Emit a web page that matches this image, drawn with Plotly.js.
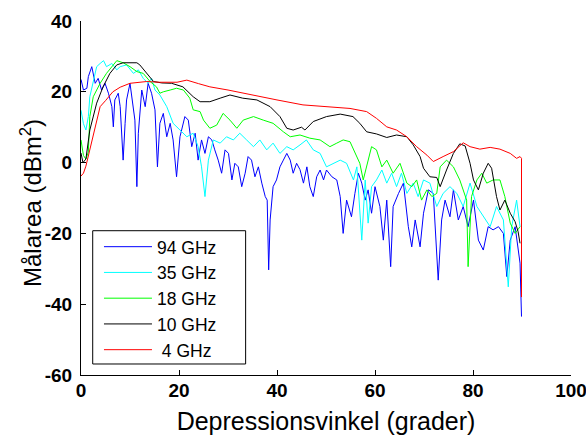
<!DOCTYPE html>
<html>
<head>
<meta charset="utf-8">
<script src="https://cdn.plot.ly/plotly-3.0.1.min.js"></script>
<style>html,body{margin:0;padding:0;background:#fff;}#chart{width:586px;height:435px;}</style>
</head>
<body>
<div id="chart"></div>
<script>
// Series names
var names = ['94 GHz', '35 GHz', '18 GHz', '10 GHz', '\u00a04 GHz'];

// 94 GHz
var x94 = [0,0.5,1.2,1.5,2.2,2.5,2.9,3.5,4.2,4.9,5.6,6.3,6.6,6.9,7.6,8.0,8.3,8.6,9.0,9.3,10.0,10.3,11.0,11.4,11.7,12.4,13.1,13.7,14.4,15.1,15.6,16.1,16.8,17.5,18.2,18.8,19.5,20.2,21.2,21.9,22.6,23.3,23.9,24.6,25.3,26.0,26.7,27.3,28.0,28.7,29.4,30.1,30.8,31.4,32.1,32.8,33.5,34.1,34.8,35.5,36.2,36.9,37.6,38.0,38.3,38.6,39.2,39.9,40.6,41.3,42.0,42.7,43.3,44.0,44.7,45.4,46.1,46.7,47.4,48.1,48.8,49.5,50.1,51.2,52.2,52.9,53.5,54.2,55.2,55.9,56.6,57.3,58.0,58.6,59.3,60.0,61.0,61.7,62.4,63.2,63.7,64.8,65.8,66.8,67.5,68.2,69.2,69.9,70.9,71.9,72.9,73.6,74.3,75.3,76.0,77.0,78.0,79.0,80.1,81.1,82.1,83.1,84.1,85.2,86.2,86.9,87.6,88.6,89.6,89.9];
var y94 = [23.5,20.5,21,24.3,27.1,25.2,22.4,23.8,20.5,22.4,19.6,15.8,10.1,17.7,19.6,15.8,9.2,0.7,11.1,17.7,22.4,19.6,12,-6.8,8.3,20.5,15.8,22.4,19.6,14.9,-1.2,11.1,13.9,7.3,11.1,6.4,-4,7.3,13,12,4.5,8.3,0.7,6.4,2.6,7.3,6.4,3.6,0.7,-3,3.6,2.6,-4.9,-0.2,-1.2,-6.8,-3,1.7,0.7,-4,-1.2,-5.8,-9.6,-10.6,-30.3,-16.2,-6.8,-4.9,-1.2,0.7,2.6,0.7,-3,-0.2,-2,-5.8,-1.2,-6.8,-9.6,-4,-2.1,-4.9,-2.1,-4,-4.9,-9.6,-20,-10.6,-15.3,-8.7,-3,-5.8,-10.6,-7.7,-14.3,-6.8,-12.4,-21.9,-10.6,-29.4,-12.4,-8.7,-5.8,-18.1,-23.8,-16.2,-23.8,-14.3,-7.7,-8.7,-33.2,-16.2,-10.6,-15.3,-7.7,-16.2,-12.4,-18.1,-10.6,-21.9,-24.7,-18.1,-19,-18.1,-20,-32.2,-21.9,-18.1,-28.4,-43.5];

// 35 GHz
var x35 = [0,0.5,1.0,1.5,1.8,2.5,3.2,3.9,4.6,5.2,6.3,7.3,8.0,9.3,10.7,11.7,12.7,13.7,14.4,15.1,16.1,17.5,18.2,18.8,20.2,21.6,22.9,23.9,24.6,25.3,26.0,27.0,28.4,29.7,31.1,32.4,33.8,35.2,36.5,37.9,39.2,40.6,42.0,43.3,44.7,46.0,47.4,48.8,50.1,51.5,52.9,54.2,55.6,56.3,57.3,58.0,58.6,59.3,60.3,61.4,62.4,63.4,64.4,65.4,66.5,67.8,68.8,69.9,71.2,72.6,73.9,75.3,76.7,78.0,79.4,80.8,82.1,83.5,84.8,86.2,87.2,87.9,88.9,89.6];
var y35 = [14.8,11,9.2,13,18.6,23.3,27.1,28,28.8,27.1,28,26.2,27.1,27.6,25.2,26.2,23.8,22.4,23.8,20.5,19.1,15.8,13,11.1,9.2,7.3,8.3,4.5,-1.2,-9.6,0.7,6.4,5.5,7.3,6.4,8.3,6.4,4.5,6.4,3.6,5.5,2.6,4.5,3.6,5,6.4,3.6,2.6,-1.2,-0.2,0.7,-0.2,-4.9,-1.2,-21.9,-4.9,-17.1,-6.8,-4.9,-2.1,-5.8,-3,-6.8,-3,-8.7,-5.8,-9.6,-4.9,-5.8,-12.4,-8.7,-6.8,-8.7,-12.4,-5.8,-12.4,-15.3,-18.1,-12.4,-16.2,-35.1,-18.1,-10.6,-18.1];

// 18 GHz
var x18 = [0,0.5,1.0,1.5,1.8,2.5,3.9,5.2,6.6,7.3,8.6,10.0,11.4,12.7,14.1,15.4,16.1,16.8,18.2,19.5,20.9,22.2,22.9,24.3,25.0,26.3,27.7,29.0,30.4,31.8,33.1,35.2,37.2,39.2,41.3,42.7,44.7,46.7,48.8,50.8,52.2,53.5,54.9,55.9,56.9,57.6,58.3,59.3,60.3,61.4,62.4,63.7,65.1,66.5,67.5,68.5,69.5,70.6,71.6,72.6,73.3,74.6,76.0,77.3,78.7,79.0,79.7,80.8,81.8,82.8,84.1,85.5,86.5,87.6,88.6,89.6];
var y18 = [6.4,2,1,3,13,18.6,22.4,25.2,27.6,28.8,28.2,27.1,25.7,25.2,22.9,21.4,19.6,20,20.5,21,20.5,18.2,14.9,14.4,12,9.7,10.6,13.9,12,9.7,12,13,12,11.1,8.7,7.3,7.8,6.9,6.4,4.5,5.5,6.4,5.9,2.6,-0.2,-4.9,-1.2,4.5,3.6,-1.2,0.7,-3,-0.2,-5.8,-6.8,-4.9,-10.6,-7.7,-9.6,-8.7,-1.2,0.7,-1.2,-4.9,-10.6,-29.4,-9.6,-4.9,-3,-5.8,-4.9,-4.9,-9.6,-17.1,-20,-18.1];

// 10 GHz
var x10 = [0,0.4,1.0,1.8,3.2,4.5,5.9,7.3,8.6,10.0,11.4,12.0,13.4,14.8,16.5,18.5,20.8,22.9,24.3,26.3,28.4,30.4,33.0,35.9,38.6,40.6,42.0,43.3,45.0,45.7,47.4,50.1,52.9,55.5,56.9,58.3,60.3,62.4,64.4,66.5,67.8,69.2,69.9,71.2,72.6,73.3,74.6,76.0,77.3,78.4,79.4,80.1,81.1,82.1,83.1,83.8,84.8,85.5,86.5,87.6,88.6,89.2,89.6];
var y10 = [2.7,0,1,9.2,16.8,21.4,25.2,27.6,28.2,28.2,28.2,27.6,25.2,22.9,22.5,22.4,21.4,18.6,17.2,17.2,18.2,19.1,18.2,17.7,15.8,13,9.7,9.2,10,9.2,11.6,13,13.7,13,11.1,8.7,8.1,7.1,7.8,7.3,5,1.7,-1.6,-4,-4.2,-6.8,-2.1,2.6,5.3,4.7,-0.2,-4.9,-7.7,-3,-0.2,-1.6,-9.6,-13.4,-10.6,-14.3,-16.7,-19.5,-22.8];

// 4 GHz
var x4 = [0,0.5,1.0,1.8,2.8,3.9,5.0,6.5,8.0,10.0,13.4,16.0,19.6,21.6,24.0,26.3,30.0,33.0,36.5,40.0,45.3,48.8,51.0,54.9,58.3,60.3,62.4,64.4,66.5,68.5,70.6,71.9,73.9,76.0,78.0,79.4,81.4,83.5,85.5,87.6,88.9,89.6,89.9,89.9];
var y4 = [-3.8,-3,-1,3.5,9.5,15.8,17.5,20,21.3,22.4,22.9,22.7,22.7,23.3,22.3,21.4,20.5,19.6,18.7,17.7,16.3,16,15.8,15.3,14.4,12.5,10.1,9.2,7.3,4.5,2.1,0.3,1.7,3.1,5.6,4.5,3.8,4.3,3.8,2.6,1.2,1.7,1.2,-38];

var xTicks = [0, 20, 40, 60, 80, 100];
var yTicks = [-60, -40, -20, 0, 20, 40];
var xTitle = 'Depressionsvinkel (grader)';
var yTitle = 'Målarea (dBm<sup>2</sup>)';

var xs = [x94, x35, x18, x10, x4];
var ys = [y94, y35, y18, y10, y4];
var colors = ['#0000ff', '#00ffff', '#00ff00', '#000000', '#ff0000'];

var traces = names.map(function (n, i) {
  return {x: xs[i], y: ys[i], name: n, type: 'scatter', mode: 'lines',
          line: {color: colors[i], width: 1}};
});

var fam = 'Liberation Sans, Arial, Helvetica, sans-serif';
var layout = {
  width: 586, height: 435,
  margin: {l: 81, r: 15, t: 21, b: 60, pad: 0},
  paper_bgcolor: '#fff', plot_bgcolor: '#fff',
  font: {family: fam, color: '#000'},
  showlegend: true,
  xaxis: {
    range: [0, 100], tickvals: xTicks, ticktext: xTicks.map(String),
    ticks: 'inside', ticklen: 5, tickwidth: 1, tickcolor: '#000',
    ticklabeloverflow: 'allow', ticklabelstandoff: -2,
    showline: true, linecolor: '#000', linewidth: 1, mirror: false,
    showgrid: false, zeroline: false, fixedrange: true,
    tickfont: {family: fam, size: 19, color: '#000', weight: 'bold'},
    title: {text: xTitle, font: {family: fam, size: 25, color: '#000'}, standoff: 14}
  },
  yaxis: {
    range: [-60, 40], tickvals: yTicks, ticktext: yTicks.map(String),
    ticks: 'inside', ticklen: 5, tickwidth: 1, tickcolor: '#000',
    ticklabelstandoff: 4,
    showline: true, linecolor: '#000', linewidth: 1, mirror: false,
    showgrid: false, zeroline: false, fixedrange: true,
    tickfont: {family: fam, size: 19, color: '#000', weight: 'bold'}
  },
  annotations: [{
    text: yTitle, textangle: -90, showarrow: false,
    xref: 'paper', yref: 'paper', x: -0.102, y: 0.486,
    xanchor: 'center', yanchor: 'middle',
    font: {family: fam, size: 24, color: '#000'}
  }],
  legend: {
    x: 0.0367, y: 0.413, xanchor: 'left', yanchor: 'top',
    bgcolor: 'rgba(0,0,0,0)', borderwidth: 0,
    font: {family: fam, size: 17.5, color: '#000'},
    itemwidth: 48, tracegroupgap: 0
  },
  shapes: [{
    type: 'rect', xref: 'paper', yref: 'paper', layer: 'below',
    x0: 0.0239, x1: 0.336, y0: 0.0311, y1: 0.4076,
    line: {color: '#000', width: 1}, fillcolor: '#fff'
  }]
};

Plotly.newPlot('chart', traces, layout, {staticPlot: true, displayModeBar: false});
</script>
</body>
</html>
